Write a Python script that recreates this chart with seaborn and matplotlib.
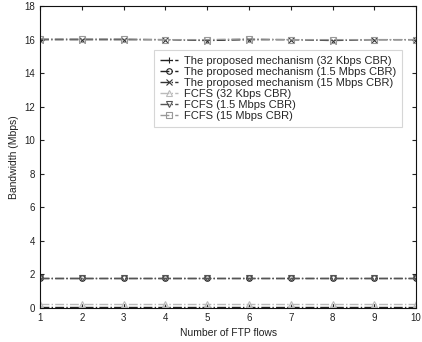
import numpy as np
import pandas as pd
import matplotlib
matplotlib.use("Agg")
import matplotlib.pyplot as plt
import seaborn as sns

flows = [1, 2, 3, 4, 5, 6, 7, 8, 9, 10]
prop_32k = [0.03, 0.03, 0.03, 0.03, 0.03, 0.03, 0.03, 0.03, 0.03, 0.03]
prop_1_5m = [1.8, 1.8, 1.8, 1.8, 1.8, 1.8, 1.8, 1.8, 1.8, 1.8]
prop_15m = [16.0, 16.0, 16.0, 16.0, 15.95, 16.0, 16.0, 15.95, 16.0, 16.0]
fcfs_32k = [0.2, 0.2, 0.2, 0.2, 0.2, 0.2, 0.2, 0.2, 0.2, 0.2]
fcfs_1_5m = [1.8, 1.8, 1.8, 1.8, 1.8, 1.8, 1.8, 1.8, 1.8, 1.8]
fcfs_15m = [16.05, 16.05, 16.05, 16.0, 16.0, 16.05, 16.0, 16.0, 16.0, 16.0]

labels = [
    "The proposed mechanism (32 Kbps CBR)",
    "The proposed mechanism (1.5 Mbps CBR)",
    "The proposed mechanism (15 Mbps CBR)",
    "FCFS (32 Kbps CBR)",
    "FCFS (1.5 Mbps CBR)",
    "FCFS (15 Mbps CBR)",
]
series = [prop_32k, prop_1_5m, prop_15m, fcfs_32k, fcfs_1_5m, fcfs_15m]
markers = ["+", "o", "x", "^", "v", "s"]
colors = ["#222222", "#222222", "#333333", "#bbbbbb", "#555555", "#999999"]

sns.set_style("white")
plt.rcParams['font.family'] = ['Liberation Sans', 'DejaVu Sans']

fig = plt.figure(figsize=(4.22, 3.42), dpi=100)
ax = fig.add_axes([0.095, 0.10, 0.891, 0.882])

for lab, vals, m, c in zip(labels, series, markers, colors):
    df = pd.DataFrame({"x": flows, "y": vals})
    sns.lineplot(data=df, x="x", y="y", ax=ax, label=lab, marker=m,
                 color=c, linestyle="-.", linewidth=1.0, markersize=4,
                 markerfacecolor="none", markeredgecolor=c, markeredgewidth=0.8)

ax.set_xlim(1, 10)
ax.set_ylim(0, 18)
ax.set_xticks(range(1, 11))
ax.set_yticks(range(0, 19, 2))
ax.tick_params(direction="in", length=3, labelsize=7, colors="#222222",
               top=True, right=True, bottom=True, left=True)
for s in ax.spines.values():
    s.set_color("#111111")
    s.set_linewidth(0.8)
ax.set_xlabel("Number of FTP flows", fontsize=7.5, color="#222222")
ax.set_ylabel("Bandwidth (Mbps)", fontsize=7.5, color="#222222")

leg = ax.legend(loc="upper right", bbox_to_anchor=(0.972, 0.865), fontsize=8,
                frameon=True, fancybox=False, edgecolor="#cccccc",
                handlelength=1.6, handletextpad=0.6, labelspacing=0.1,
                borderpad=0.5, borderaxespad=0.3)
leg.get_frame().set_linewidth(0.8)

fig.savefig("out.png", dpi=100)
